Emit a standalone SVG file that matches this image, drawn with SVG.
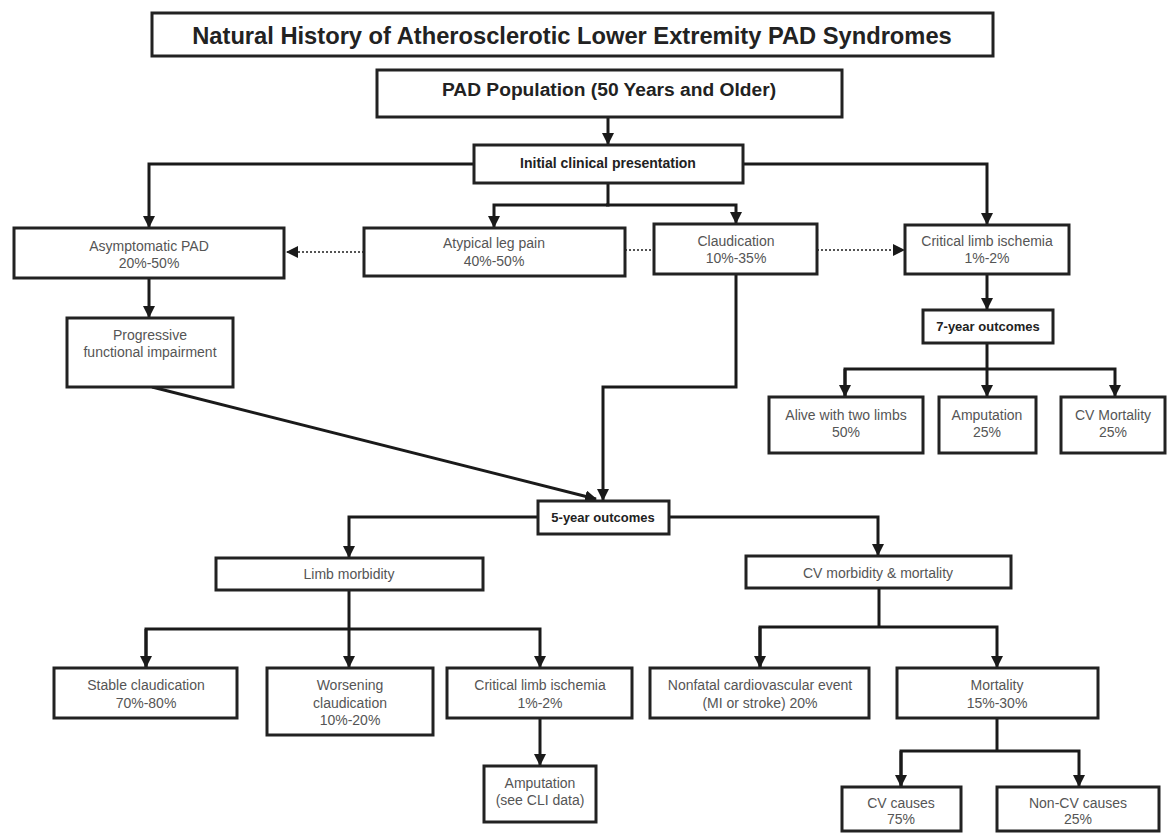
<svg xmlns="http://www.w3.org/2000/svg" width="1168" height="834" viewBox="0 0 1168 834">
<style>
.box{fill:#fff;stroke:#222;stroke-width:3}
.t{font-family:"Liberation Sans",Arial,sans-serif;font-size:14px;fill:#555;text-anchor:middle}
.b{font-family:"Liberation Sans",Arial,sans-serif;font-weight:bold;fill:#222;text-anchor:middle}
.c{fill:none;stroke:#1a1a1a;stroke-width:3}
.d{fill:none;stroke:#555;stroke-width:2;stroke-dasharray:2 2}
</style>
<defs>
<marker id="ah" markerWidth="12" markerHeight="12" refX="11" refY="6" orient="auto" markerUnits="userSpaceOnUse">
<path d="M0,0 L12,6 L0,12 z" fill="#1a1a1a"/>
</marker>
</defs>
<rect width="1168" height="834" fill="#fff"/>
<g id="connectors">
<path class="c" d="M608,117 V144" marker-end="url(#ah)"/>
<path class="c" d="M474,164 H149 V227" marker-end="url(#ah)"/>
<path class="c" d="M743,164 H987 V224" marker-end="url(#ah)"/>
<path class="c" d="M608,183 V205 H494 V227" marker-end="url(#ah)"/>
<path class="c" d="M606,205 H736 V223" marker-end="url(#ah)"/>
<path class="d" d="M364,252 H287" marker-end="url(#ah)"/>
<path class="d" d="M625,250 H654"/>
<path class="d" d="M817,250 H904" marker-end="url(#ah)"/>
<path class="c" d="M149,278 V317" marker-end="url(#ah)"/>
<path class="c" d="M152,387 L596,499" marker-end="url(#ah)"/>
<path class="c" d="M736,274 V387 H603 V500" marker-end="url(#ah)"/>
<path class="c" d="M538,517 H349 V557" marker-end="url(#ah)"/>
<path class="c" d="M669,517 H878 V555" marker-end="url(#ah)"/>
<path class="c" d="M349,590 V667" marker-end="url(#ah)"/>
<path class="c" d="M146,667 V629 H540 V667" marker-end="url(#ah)"/>
<path class="c" d="M146,629 V667" marker-end="url(#ah)"/>
<path class="c" d="M540,718 V765" marker-end="url(#ah)"/>
<path class="c" d="M879,588 V627"/>
<path class="c" d="M760,667 V627 H997 V667" marker-end="url(#ah)"/>
<path class="c" d="M760,627 V667" marker-end="url(#ah)"/>
<path class="c" d="M997,718 V751"/>
<path class="c" d="M901,786 V751 H1079 V786" marker-end="url(#ah)"/>
<path class="c" d="M901,751 V786" marker-end="url(#ah)"/>
<path class="c" d="M987,274 V309" marker-end="url(#ah)"/>
<path class="c" d="M987,343 V396" marker-end="url(#ah)"/>
<path class="c" d="M845,396 V369 H1115 V396" marker-end="url(#ah)"/>
<path class="c" d="M845,369 V396" marker-end="url(#ah)"/>
</g>
<g id="title">
<rect class="box" x="152" y="13" width="841" height="43"/>
<text class="b" x="572" y="43.5" font-size="23.7">Natural History of Atherosclerotic Lower Extremity PAD Syndromes</text>
</g>
<g id="pad-population">
<rect class="box" x="377" y="70" width="465" height="47"/>
<text class="b" x="609" y="96" font-size="19.2">PAD Population (50 Years and Older)</text>
</g>
<g id="initial">
<rect class="box" x="474" y="145" width="269" height="38"/>
<text class="b" x="608" y="168" font-size="14">Initial clinical presentation</text>
</g>
<g id="asymptomatic">
<rect class="box" x="14" y="228" width="270" height="50"/>
<text class="t" x="149" y="251">Asymptomatic PAD</text>
<text class="t" x="149" y="268">20%-50%</text>
</g>
<g id="atypical">
<rect class="box" x="364" y="228" width="261" height="48"/>
<text class="t" x="494" y="248">Atypical leg pain</text>
<text class="t" x="494" y="266">40%-50%</text>
</g>
<g id="claudication">
<rect class="box" x="654" y="224" width="163" height="50"/>
<text class="t" x="736" y="246">Claudication</text>
<text class="t" x="736" y="263">10%-35%</text>
</g>
<g id="cli-upper">
<rect class="box" x="905" y="225" width="164" height="49"/>
<text class="t" x="987" y="246">Critical limb ischemia</text>
<text class="t" x="987" y="263">1%-2%</text>
</g>
<g id="progressive">
<rect class="box" x="67" y="318" width="166" height="69"/>
<text class="t" x="150" y="340">Progressive</text>
<text class="t" x="150" y="357">functional impairment</text>
</g>
<g id="seven-year">
<rect class="box" x="923" y="310" width="130" height="33"/>
<text class="b" x="988" y="331" font-size="13">7-year outcomes</text>
</g>
<g id="alive">
<rect class="box" x="769" y="397" width="154" height="56"/>
<text class="t" x="846" y="420">Alive with two limbs</text>
<text class="t" x="846" y="437">50%</text>
</g>
<g id="amputation-upper">
<rect class="box" x="939" y="397" width="97" height="56"/>
<text class="t" x="987" y="420">Amputation</text>
<text class="t" x="987" y="437">25%</text>
</g>
<g id="cv-mortality">
<rect class="box" x="1061" y="397" width="104" height="56"/>
<text class="t" x="1113" y="420">CV Mortality</text>
<text class="t" x="1113" y="437">25%</text>
</g>
<g id="five-year">
<rect class="box" x="538" y="501" width="131" height="33"/>
<text class="b" x="603" y="522" font-size="13">5-year outcomes</text>
</g>
<g id="limb-morbidity">
<rect class="box" x="216" y="558" width="267" height="32"/>
<text class="t" x="349" y="579">Limb morbidity</text>
</g>
<g id="cv-morbidity">
<rect class="box" x="746" y="556" width="265" height="32"/>
<text class="t" x="878" y="578">CV morbidity &amp; mortality</text>
</g>
<g id="stable">
<rect class="box" x="54" y="668" width="183" height="50"/>
<text class="t" x="146" y="690">Stable claudication</text>
<text class="t" x="146" y="708">70%-80%</text>
</g>
<g id="worsening">
<rect class="box" x="267" y="668" width="166" height="67"/>
<text class="t" x="350" y="690">Worsening</text>
<text class="t" x="350" y="708">claudication</text>
<text class="t" x="350" y="725">10%-20%</text>
</g>
<g id="cli-lower">
<rect class="box" x="447" y="668" width="185" height="50"/>
<text class="t" x="540" y="690">Critical limb ischemia</text>
<text class="t" x="540" y="708">1%-2%</text>
</g>
<g id="amputation-lower">
<rect class="box" x="484" y="766" width="112" height="56"/>
<text class="t" x="540" y="788">Amputation</text>
<text class="t" x="540" y="805">(see CLI data)</text>
</g>
<g id="nonfatal">
<rect class="box" x="650" y="668" width="219" height="50"/>
<text class="t" x="760" y="690">Nonfatal cardiovascular event</text>
<text class="t" x="760" y="708">(MI or stroke) 20%</text>
</g>
<g id="mortality">
<rect class="box" x="897" y="668" width="201" height="50"/>
<text class="t" x="997" y="690">Mortality</text>
<text class="t" x="997" y="708">15%-30%</text>
</g>
<g id="cv-causes">
<rect class="box" x="842" y="787" width="119" height="44"/>
<text class="t" x="901" y="808">CV causes</text>
<text class="t" x="901" y="824">75%</text>
</g>
<g id="non-cv-causes">
<rect class="box" x="997" y="787" width="162" height="44"/>
<text class="t" x="1078" y="808">Non-CV causes</text>
<text class="t" x="1078" y="824">25%</text>
</g>
</svg>
